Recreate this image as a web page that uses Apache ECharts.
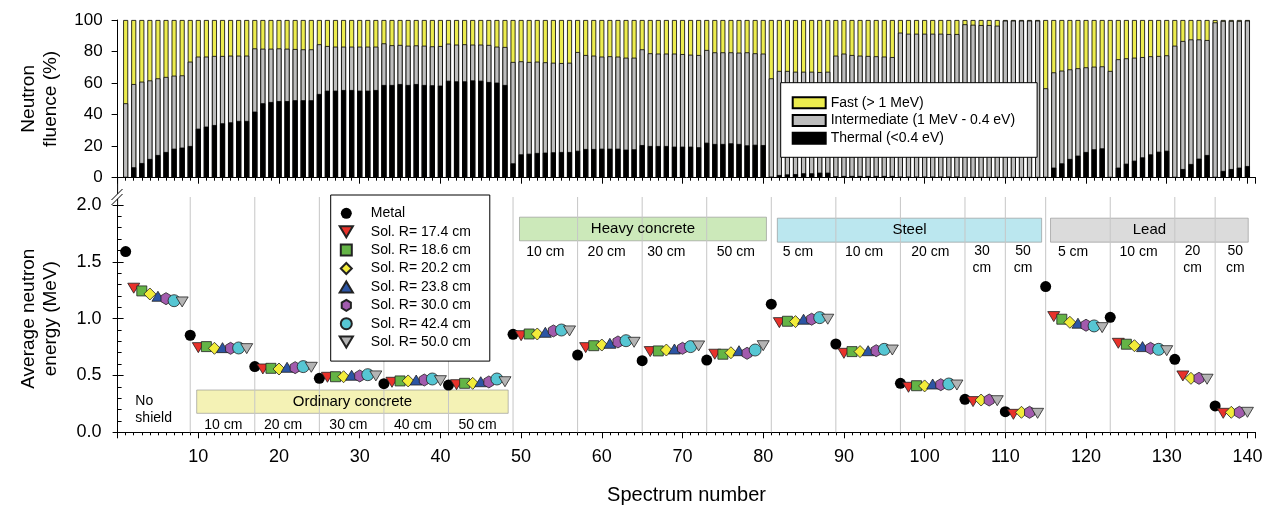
<!DOCTYPE html>
<html>
<head>
<meta charset="utf-8">
<script src="https://cdn.jsdelivr.net/npm/echarts@6/dist/echarts.min.js"></script>
<style>
html, body { margin: 0; padding: 0; background: #fff; }
#chart { width: 1270px; height: 507px; }
</style>
</head>
<body>
<div id="chart"></div>
<script>
const FONT = '"Liberation Sans", Arial, Helvetica, sans-serif';

// ---- top panel: neutron fluence fractions (%), spectra 1..140 ----
const thermal = [
  0.3, 6.6, 9.3, 11.9, 14.4, 16.3, 18.4, 19.1,
  20.1, 31.1, 32.4, 33.4, 34.5, 35.1, 36.0, 36.0,
  41.9, 47.2, 48.0, 48.6, 48.6, 49.1, 49.1, 49.1,
  53.1, 55.2, 55.2, 55.6, 55.6, 55.2, 55.2, 55.6,
  58.8, 58.8, 59.4, 58.8, 59.4, 58.8, 58.6, 58.4,
  61.5, 61.1, 61.1, 61.7, 61.5, 60.7, 60.3, 58.8,
  9.1, 14.8, 15.2, 15.7, 15.9, 16.1, 16.3, 16.3,
  17.1, 18.2, 18.2, 18.4, 18.4, 18.4, 17.8, 18.0,
  20.7, 20.1, 20.1, 20.1, 19.7, 19.7, 19.7, 19.3,
  22.2, 21.4, 21.4, 21.8, 21.4, 20.5, 20.9, 20.7,
  0.5, 1.7, 2.1, 2.3, 2.8, 2.8, 3.2, 3.2,
  0.9, 1.1, 1.1, 1.1, 1.1, 1.1, 1.1, 1.1,
  0.6, 0.6, 0.6, 0.6, 0.6, 0.6, 0.6, 0.6,
  0.3, 0.3, 0.3, 0.3, 0.3,
  0.2, 0.2, 0.2, 0.2, 0.2,
  0.3, 6.4, 9.1, 11.9, 14.0, 16.3, 18.0, 18.6,
  0.3, 6.4, 8.9, 10.8, 12.9, 14.8, 16.5, 17.1,
  0.3, 5.5, 8.7, 12.1, 14.4,
  0.3, 4.3, 5.5, 6.4, 7.4
];
const intermediate = [
  46.9, 52.8, 51.6, 49.8, 48.6, 47.6, 46.3, 45.8,
  53.5, 45.7, 44.4, 43.8, 42.7, 42.3, 41.4, 41.4,
  40.1, 34.6, 33.8, 33.4, 33.2, 32.5, 32.3, 32.3,
  31.5, 28.3, 27.9, 27.5, 27.5, 27.9, 27.9, 27.5,
  26.4, 25.2, 24.8, 24.9, 24.5, 24.9, 24.7, 25.1,
  23.5, 23.3, 23.5, 22.7, 22.9, 23.5, 22.8, 24.1,
  64.3, 59.0, 58.2, 57.9, 57.3, 56.8, 56.4, 56.6,
  62.6, 59.6, 59.2, 58.4, 58.6, 58.4, 58.3, 58.1,
  60.7, 58.8, 58.6, 58.6, 59.0, 58.7, 58.3, 58.5,
  58.8, 58.1, 58.1, 57.7, 57.9, 59.0, 58.0, 58.0,
  62.5, 66.0, 65.6, 64.9, 64.4, 64.4, 63.8, 64.0,
  76.5, 77.6, 76.7, 76.3, 76.1, 75.9, 75.7, 75.4,
  91.4, 90.7, 90.7, 90.7, 90.7, 90.7, 90.5, 90.5,
  97.0, 96.7, 96.5, 96.5, 96.1,
  99.4, 99.4, 99.4, 99.4, 99.4,
  56.4, 60.4, 58.8, 56.8, 55.4, 53.7, 52.4, 52.0,
  67.4, 68.7, 66.8, 65.3, 63.6, 62.2, 60.7, 60.5,
  83.4, 81.2, 79.0, 75.6, 72.9,
  98.2, 95.1, 93.9, 93.0, 92.2
];
const fast = [
  52.8, 40.6, 39.1, 38.3, 37.0, 36.1, 35.3, 35.1,
  26.4, 23.2, 23.2, 22.8, 22.8, 22.6, 22.6, 22.6,
  18.0, 18.2, 18.2, 18.0, 18.2, 18.4, 18.6, 18.6,
  15.4, 16.5, 16.9, 16.9, 16.9, 16.9, 16.9, 16.9,
  14.8, 16.0, 15.8, 16.3, 16.1, 16.3, 16.7, 16.5,
  15.0, 15.6, 15.4, 15.6, 15.6, 15.8, 16.9, 17.1,
  26.6, 26.2, 26.6, 26.4, 26.8, 27.1, 27.3, 27.1,
  20.3, 22.2, 22.6, 23.2, 23.0, 23.2, 23.9, 23.9,
  18.6, 21.1, 21.3, 21.3, 21.3, 21.6, 22.0, 22.2,
  19.0, 20.5, 20.5, 20.5, 20.7, 20.5, 21.1, 21.3,
  37.0, 32.3, 32.3, 32.8, 32.8, 32.8, 33.0, 32.8,
  22.6, 21.3, 22.2, 22.6, 22.8, 23.0, 23.2, 23.5,
  8.0, 8.7, 8.7, 8.7, 8.7, 8.7, 8.9, 8.9,
  2.7, 3.0, 3.2, 3.2, 3.6,
  0.4, 0.4, 0.4, 0.4, 0.4,
  43.3, 33.2, 32.1, 31.3, 30.6, 30.0, 29.6, 29.4,
  32.3, 24.9, 24.3, 23.9, 23.5, 23.0, 22.8, 22.4,
  16.3, 13.3, 12.3, 12.3, 12.7,
  1.5, 0.6, 0.6, 0.6, 0.4
];

// ---- bottom panel: average energy (MeV) per shielding group ----
const groupStart = [1, 9, 17, 25, 33, 41, 49, 57, 65, 73, 81, 89, 97, 105, 110, 115, 123, 131, 136];
const groupSize  = [8, 8, 8, 8, 8, 8, 8, 8, 8, 8, 8, 8, 8, 5, 5, 8, 8, 5, 5];
const metal  = [1.59, 0.854, 0.578, 0.475, 0.428, 0.416, 0.862, 0.68, 0.63, 0.636, 1.127, 0.777, 0.431, 0.29, 0.181, 1.282, 1.012, 0.642, 0.232];
const sol174 = [1.268, 0.745, 0.557, 0.484, 0.44, 0.419, 0.85, 0.745, 0.71, 0.687, 0.965, 0.695, 0.396, 0.27, 0.158, 1.018, 0.783, 0.496, 0.167];
const sol186 = [1.244, 0.754, 0.563, 0.489, 0.452, 0.431, 0.865, 0.762, 0.716, 0.687, 0.977, 0.71, 0.41, null, null, 0.995, 0.775, null, null];
const sol202 = [1.217, 0.739, 0.557, 0.489, 0.452, 0.431, 0.865, 0.768, 0.724, 0.70, 0.974, 0.71, 0.408, 0.284, 0.176, 0.968, 0.762, 0.475, 0.176];
const sol238 = [1.197, 0.745, 0.572, 0.502, 0.46, 0.445, 0.88, 0.783, 0.733, 0.718, 0.995, 0.718, 0.425, null, null, 0.96, 0.754, null, null];
const sol300 = [1.176, 0.739, 0.569, 0.496, 0.46, 0.443, 0.892, 0.795, 0.739, 0.695, 0.995, 0.718, 0.419, 0.284, 0.176, 0.942, 0.739, 0.475, 0.176];
const sol424 = [1.158, 0.742, 0.578, 0.507, 0.469, 0.469, 0.9, 0.806, 0.754, 0.724, 1.009, 0.73, 0.425, null, null, 0.936, 0.73, null, null];
const sol500 = [1.147, 0.736, 0.572, 0.496, 0.454, 0.445, 0.892, 0.792, 0.76, 0.762, 0.995, 0.724, 0.416, 0.278, 0.167, 0.921, 0.718, 0.467, 0.176];

const fluenceNames = ['Thermal (<0.4 eV)', 'Intermediate (1 MeV - 0.4 eV)', 'Fast (> 1 MeV)'];
const solNames = ['Sol. R= 17.4 cm', 'Sol. R= 18.6 cm', 'Sol. R= 20.2 cm', 'Sol. R= 23.8 cm',
                  'Sol. R= 30.0 cm', 'Sol. R= 42.4 cm', 'Sol. R= 50.0 cm'];

// where each sphere sits inside a short (5 spectra) group
const shortSlot = [1, null, 2, null, 3, null, 4];

// thickness labels: text, spectrum, MeV, align
const notes = [
  ['No\nshield', 2.2, 0.2, 'left'],
  ['10 cm', 13.1, 0.064], ['20 cm', 20.5, 0.064], ['30 cm', 28.6, 0.064], ['40 cm', 36.6, 0.064], ['50 cm', 44.6, 0.064],
  ['10 cm', 53, 1.585], ['20 cm', 60.6, 1.585], ['30 cm', 68, 1.585], ['50 cm', 76.6, 1.585],
  ['5 cm', 84.3, 1.585], ['10 cm', 92.5, 1.585], ['20 cm', 100.7, 1.585], ['30\ncm', 107.1, 1.515], ['50\ncm', 112.2, 1.515],
  ['5 cm', 118.4, 1.585], ['10 cm', 126.5, 1.585], ['20\ncm', 133.2, 1.515], ['50\ncm', 138.5, 1.515]
];

const GL = 117.6, GW = 1137.9;

function solData(vals, k) {
  const out = [];
  vals.forEach((v, g) => {
    if (v == null) return;
    const off = groupSize[g] === 8 ? k + 1 : shortSlot[k];
    out.push([groupStart[g] + off, v]);
  });
  return out;
}

const tri_down = 'path://M0,0L12,0L6,10Z';
const tri_up = 'path://M6,0L12,10L0,10Z';
const solStyle = [
  { symbol: tri_down, size: [12, 10], color: '#e8322b' },
  { symbol: 'path://M0,0H10V10H0Z', size: [10, 10], color: '#64b446' },
  { symbol: 'path://M6,0L12,6L6,12L0,6Z', size: [12, 12], color: '#f2ec3a' },
  { symbol: tri_up, size: [12, 10], color: '#2c55a4' },
  { symbol: 'path://M5,0L10,3L10,9L5,12L0,9L0,3Z', size: [10, 12], color: '#a25bad' },
  { symbol: 'circle', size: 12, color: '#56c6d3' },
  { symbol: tri_down, size: [12, 10], color: '#b4b4b4' }
];
const sols = [sol174, sol186, sol202, sol238, sol300, sol424, sol500];

// cumulative tops, drawn as overlapping bars (fast top first, thermal last)
const layers = [
  { name: fluenceNames[2], color: '#ecec4e', top: thermal.map((v, j) => v + intermediate[j] + fast[j]) },
  { name: fluenceNames[1], color: '#bdbdbd', top: thermal.map((v, j) => v + intermediate[j]) },
  { name: fluenceNames[0], color: '#000000', top: thermal }
];

const series = [];
layers.forEach(l => {
  series.push({
    name: l.name, type: 'bar',
    xAxisIndex: 0, yAxisIndex: 0, barWidth: 5, barGap: '-100%',
    itemStyle: { color: l.color, borderColor: '#000', borderWidth: 0.8 },
    data: l.top.map((v, j) => [j + 1, v])
  });
});

// group separators
series.push({
  type: 'custom', xAxisIndex: 2, yAxisIndex: 1, silent: true, z: 1,
  data: groupStart.slice(1).map(x => [x, 0]),
  encode: { x: 0, y: 1 },
  renderItem: (params, api) => {
    const x = api.value(0);
    const p0 = api.coord([x, 0]);
    const p1 = api.coord([x, 2]);
    return {
      type: 'line',
      shape: { x1: p0[0], y1: p0[1], x2: p1[0], y2: p1[1] - 8 },
      style: { stroke: '#c6c6c6', lineWidth: 1 }
    };
  }
});

// thickness labels + shielding material boxes
function box(name, x0, x1, y0, y1, fill) {
  return [
    { name, xAxis: x0, yAxis: y0, itemStyle: { color: fill, borderColor: 'rgba(140,140,140,0.6)', borderWidth: 1 } },
    { xAxis: x1, yAxis: y1 }
  ];
}
series.push({
  type: 'custom', xAxisIndex: 2, yAxisIndex: 1, silent: true, z: 3,
  data: notes.map((n, i) => [n[1], n[2], i]),
  encode: { x: 0, y: 1 },
  renderItem: (params, api) => {
    const n = notes[api.value(2)];
    const p = api.coord([api.value(0), api.value(1)]);
    return {
      type: 'text', x: p[0], y: p[1],
      style: {
        text: n[0], fill: '#000', font: '14px ' + FONT, lineHeight: 17,
        align: n[3] || 'center', verticalAlign: 'middle'
      }
    };
  },
  markArea: {
    silent: true,
    label: { show: true, position: 'inside', fontSize: 15, fontFamily: FONT, color: '#000' },
    data: [
      box('Ordinary concrete', 9.8, 48.4, 0.167, 0.372, 'rgba(240,236,150,0.7)'),
      box('Heavy concrete', 49.8, 80.4, 1.685, 1.893, 'rgba(170,218,140,0.6)'),
      box('Steel', 81.75, 114.5, 1.673, 1.884, 'rgba(150,218,230,0.65)'),
      box('Lead', 115.6, 140.1, 1.673, 1.884, 'rgba(200,200,200,0.65)')
    ]
  }
});

series.push({
  name: 'Metal', type: 'scatter', xAxisIndex: 2, yAxisIndex: 1, z: 4,
  symbol: 'circle', symbolSize: 11,
  itemStyle: { color: '#000', opacity: 1 },
  data: metal.map((v, g) => [groupStart[g], v])
});
sols.forEach((arr, k) => {
  const s = solStyle[k];
  series.push({
    name: solNames[k], type: 'scatter', xAxisIndex: 2, yAxisIndex: 1, z: 4,
    symbol: s.symbol, symbolSize: s.size,
    itemStyle: { color: s.color, borderColor: '#222', borderWidth: 0.8, opacity: 1 },
    data: solData(arr, k)
  });
});

const black = '#000';
const majorX = (gridIndex, labels) => ({
  type: 'value', gridIndex, position: 'bottom', min: 0, max: 141, interval: 10,
  axisLine: { show: true, onZero: false, lineStyle: { color: black, width: 1 } },
  axisTick: { show: true, length: 6, lineStyle: { color: black } },
  splitLine: { show: false },
  axisLabel: labels ? {
    show: true, fontSize: 18, fontFamily: FONT, color: black, margin: 16,
    formatter: v => (v > 0 && v % 10 === 0 ? String(v) : '')
  } : { show: false },
  name: labels ? 'Spectrum number' : '',
  nameLocation: 'middle', nameGap: 53, nameMoveOverlap: false,
  nameTextStyle: { fontSize: 20, fontFamily: FONT, color: black }
});
const minorX = gridIndex => ({
  type: 'value', gridIndex, position: 'bottom', min: 0, max: 141, interval: 1,
  axisLine: { show: false, onZero: false },
  axisTick: { show: true, length: 3, lineStyle: { color: black } },
  axisLabel: { show: false }, splitLine: { show: false }
});

const option = {
  animation: false,
  backgroundColor: '#fff',
  textStyle: { fontFamily: FONT, color: black },
  grid: [
    { left: GL, top: 20, width: GW, height: 157.7, outerBoundsMode: 'none', containLabel: false },
    { left: GL, top: 205, width: GW, height: 227.3, outerBoundsMode: 'none', containLabel: false }
  ],
  xAxis: [majorX(0, false), minorX(0), majorX(1, true), minorX(1)],
  yAxis: [
    {
      type: 'value', gridIndex: 0, position: 'left', min: 0, max: 100, interval: 20,
      axisLine: { show: true, onZero: false, lineStyle: { color: black } },
      axisTick: { show: true, length: 6, lineStyle: { color: black } },
      splitLine: { show: false },
      axisLabel: { fontSize: 17, fontFamily: FONT, color: black, margin: 15 },
      name: 'Neutron\nfluence (%)', nameLocation: 'middle', nameGap: 56, nameMoveOverlap: false,
      nameTextStyle: { fontSize: 19, lineHeight: 22, fontFamily: FONT, color: black }
    },
    {
      type: 'value', gridIndex: 1, position: 'left', min: 0, max: 2, interval: 0.5,
      axisLine: { show: true, onZero: false, lineStyle: { color: black } },
      axisTick: { show: true, inside: true, length: 6, lineStyle: { color: black } },
      minorTick: { show: true, splitNumber: 5, length: 4, lineStyle: { color: black } },
      splitLine: { show: false }, minorSplitLine: { show: false },
      axisLabel: { fontSize: 18, fontFamily: FONT, color: black, margin: 16, formatter: v => v.toFixed(1) },
      name: 'Average neutron\nenergy (MeV)', nameLocation: 'middle', nameGap: 56, nameMoveOverlap: false,
      nameTextStyle: { fontSize: 19, lineHeight: 22, fontFamily: FONT, color: black }
    },
    {
      type: 'value', gridIndex: 1, position: 'left', min: 0, max: 2, interval: 0.5,
      axisLine: { show: false, onZero: false },
      axisTick: { show: true, length: 5, lineStyle: { color: black } },
      axisLabel: { show: false }, splitLine: { show: false }
    }
  ],
  legend: [
    {
      data: [fluenceNames[2], fluenceNames[1], fluenceNames[0]],
      orient: 'vertical', left: 780.7, top: 82.7,
      icon: 'rect', itemWidth: 33, itemHeight: 11, itemGap: 3.8,
      padding: [13, 22, 12, 11],
      backgroundColor: '#fff', borderColor: black, borderWidth: 1,
      selectedMode: false,
      textStyle: { fontSize: 14, fontFamily: FONT, color: black }
    },
    {
      data: ['Metal'].concat(solNames),
      orient: 'vertical', left: 330.7, top: 195,
      itemWidth: 39, itemHeight: 11, itemGap: 4.4, symbolKeepAspect: true,
      padding: [11.3, 19, 12, 8],
      backgroundColor: '#fff', borderColor: black, borderWidth: 1,
      selectedMode: false,
      textStyle: { fontSize: 14, fontFamily: FONT, color: black }
    }
  ],
  graphic: [
    { type: 'line', silent: true, shape: { x1: GL, y1: 177.7, x2: GL, y2: 193.9 }, style: { stroke: black, lineWidth: 1 } },
    { type: 'line', silent: true, shape: { x1: GL, y1: 198.9, x2: GL, y2: 205 }, style: { stroke: black, lineWidth: 1 } },
    { type: 'line', silent: true, shape: { x1: 111.5, y1: 200, x2: 122.5, y2: 189 }, style: { stroke: black, lineWidth: 1 } },
    { type: 'line', silent: true, shape: { x1: 111.5, y1: 205, x2: 122.5, y2: 194 }, style: { stroke: black, lineWidth: 1 } }
  ],
  series
};

const chart = echarts.init(document.getElementById('chart'), null, { renderer: 'canvas' });
chart.setOption(option);
</script>
</body>
</html>
